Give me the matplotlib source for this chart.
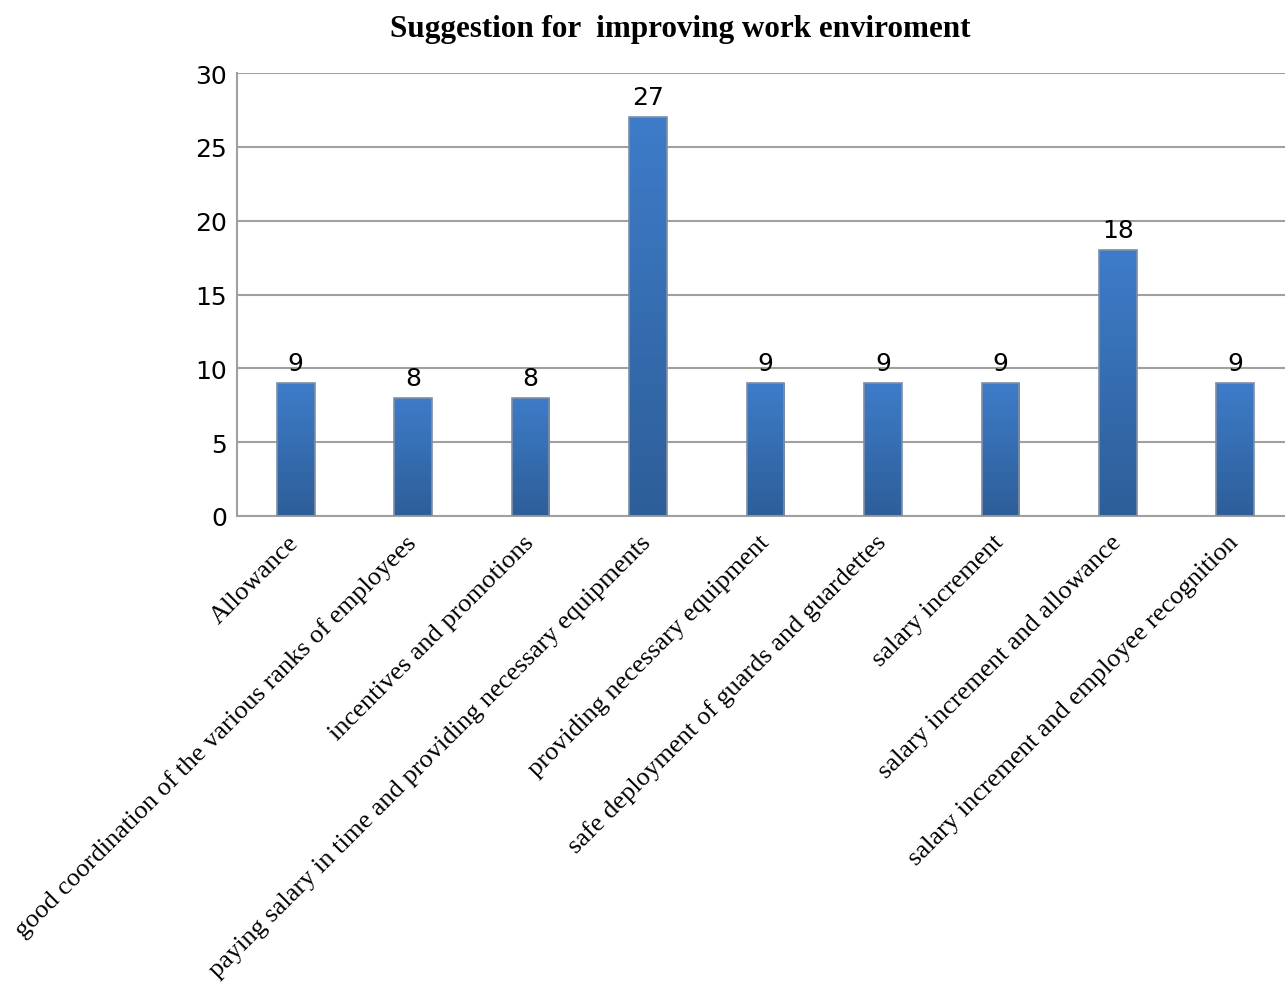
import matplotlib
matplotlib.use("Agg")
import matplotlib.pyplot as plt
import numpy as np
from matplotlib.colors import LinearSegmentedColormap

categories = [
    "Allowance",
    "good coordination of the various ranks of employees",
    "incentives and promotions",
    "paying salary in time and providing necessary equipments",
    "providing necessary equipment",
    "safe deployment of guards and guardettes",
    "salary increment",
    "salary increment and allowance",
    "salary increment and employee recognition",
]
values = [9, 8, 8, 27, 9, 9, 9, 18, 9]
title = "Suggestion for  improving work enviroment"
yticks = [0, 5, 10, 15, 20, 25, 30]

W, H = 1285, 987
fig = plt.figure(figsize=(W / 100, H / 100), dpi=100)
ax = fig.add_axes([237 / W, 1 - 517 / H, 1057 / W, (517 - 74) / H])

x = np.arange(len(categories))
bw = 0.32
bars = ax.bar(x, values, width=bw, color="none", edgecolor="#7f8fa6", linewidth=1.2, zorder=3)

cmap = LinearSegmentedColormap.from_list("g", ["#2d5e98", "#3e7cc9"])
grad = np.linspace(0, 1, 256).reshape(-1, 1)
for b in bars:
    x0, w, h = b.get_x(), b.get_width(), b.get_height()
    im = ax.imshow(grad, cmap=cmap, aspect="auto", origin="lower",
                   extent=[x0, x0 + w, 0, h], zorder=2)
    im.set_clip_path(b)

ax.set_xlim(-0.5, len(categories) - 0.5)
ax.set_ylim(0, 30)
ax.set_yticks(yticks)
ax.set_yticklabels([str(t) for t in yticks], fontsize=18, family="DejaVu Sans")
ax.yaxis.grid(True, color="#a0a0a0", linewidth=1.5, zorder=0)
ax.set_axisbelow(True)
ax.tick_params(axis="y", length=0, pad=7)
ax.tick_params(axis="x", length=0, pad=6)
for s in ["top", "right"]:
    ax.spines[s].set_visible(False)
for s in ["left", "bottom"]:
    ax.spines[s].set_color("#a0a0a0")
    ax.spines[s].set_linewidth(1.5)

ax.set_xticks(x)
ax.set_xticklabels(categories, rotation=45, ha="right", va="center",
                   rotation_mode="anchor", fontsize=19, family="Liberation Serif")
for lbl in ax.get_xticklabels():
    lbl.set_y(-0.032)

for xi, v in zip(x, values):
    ax.annotate(str(v), (xi, v), xytext=(0, 6), textcoords="offset points",
                ha="center", va="bottom", fontsize=18, family="DejaVu Sans")

fig.text(680 / W, 1 - 30 / H, title, ha="center", va="center",
         fontsize=22.4, fontweight="bold", family="Liberation Serif")

fig.savefig("out.png", dpi=100)
